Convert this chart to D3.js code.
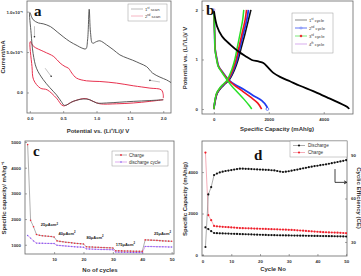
<!DOCTYPE html>
<html>
<head>
<meta charset="utf-8">
<script src="https://cdn.jsdelivr.net/npm/d3@7"></script>
<style>
  body { margin: 0; background: #fff; }
  svg { display: block; font-family: "Liberation Sans", Arial, sans-serif; }
</style>
</head>
<body>
<svg id="svg"></svg>
<script>
// ---- panel a: cyclic voltammetry (current in units of 1e-5 mA) ----
const scan1Potential = [2.0, 1.8, 1.55, 1.35, 1.15, 1.0, 0.9, 0.8, 0.65, 0.52, 0.47, 0.4, 0.3, 0.2, 0.1, 0.05, 0.02, 0.0,
  0.05, 0.13, 0.2, 0.31, 0.41, 0.5, 0.6, 0.71, 0.78, 0.84, 0.866, 0.89, 0.91, 0.94, 1.0, 1.05, 1.15, 1.25, 1.35, 1.46, 1.54, 1.65, 1.75, 1.84, 1.95, 2.05, 2.13];
const scan1Current = [-0.9, -1.0, -1.1, -1.2, -1.3, -1.3, -0.9, -0.8, -1.1, -1.6, -1.1, -0.3, 0.6, 1.6, 3.0, 4.8, 7.3, 9.9,
  9.0, 8.6, 8.5, 8.15, 7.5, 6.9, 6.3, 5.8, 5.5, 5.4, 6.5, 10.3, 7.4, 6.1, 6.3, 6.4, 5.9, 5.3, 4.65, 4.25, 4.0, 3.6, 3.2, 2.4, 1.9, 1.55, 1.15];
const scan2Potential = [2.0, 1.8, 1.55, 1.3, 1.05, 0.95, 0.83, 0.65, 0.5, 0.4, 0.26, 0.157, 0.057, 0.033, 0.007,
  0.057, 0.21, 0.36, 0.455, 0.53, 0.58, 0.63, 0.70, 0.85, 1.05, 1.30, 1.55, 1.80, 1.97, 2.0, 2.0];
const scan2Current = [-0.9, -1.1, -1.3, -1.4, -1.4, -1.1, -0.75, -1.1, -1.65, -0.7, 0.33, 0.54, 1.57, 3.2, 6.3,
  5.7, 5.06, 4.44, 3.63, 3.2, 3.0, 2.4, 1.78, 1.44, 1.36, 1.16, 0.83, 0.54, 0.33, -0.28, -0.7];
const aTicksY = [0, 5, 10];
const aTickLabelsY = ["0.0", "5.0x10⁻⁵", "1.0x10⁻⁴"];

// ---- panel b: charge / discharge profiles ----
const c1DisCap = [0, 116, 297, 598, 899, 1141, 1384, 1623, 1804, 1986, 2167, 2409, 2772, 3134, 3616, 4101, 4464, 4884, 4920];
const c1DisV = [2.0, 1.67, 1.47, 1.30, 1.16, 1.07, 0.99, 0.96, 0.93, 0.83, 0.73, 0.65, 0.56, 0.47, 0.36, 0.24, 0.15, 0.03, 0.0];
const c1ChCap = [0, 60, 125, 250, 375, 560, 750, 880, 1010, 1140, 1260, 1350];
const c1ChV = [0, 0.19, 0.32, 0.42, 0.49, 0.59, 0.79, 0.99, 1.26, 1.53, 1.80, 2.0];
const c2DisCap = [0, 30, 50, 116, 175, 297, 417, 536, 779, 1080, 1442, 1746, 1930, 1950];
const c2DisV = [2.0, 1.53, 1.2, 1.0, 0.86, 0.76, 0.67, 0.59, 0.49, 0.40, 0.27, 0.17, 0.05, 0.0];
const c2ChCap = [0, 54, 116, 236, 355, 536, 717, 840, 960, 1080, 1200, 1260];
const c2ChV = [0, 0.19, 0.32, 0.42, 0.49, 0.59, 0.79, 0.99, 1.26, 1.53, 1.80, 2.0];
const c3DisCap = [0, 30, 50, 110, 170, 290, 405, 520, 750, 1020, 1340, 1600, 1740];
const c3DisV = [2.0, 1.53, 1.2, 1.0, 0.86, 0.76, 0.67, 0.59, 0.48, 0.37, 0.24, 0.12, 0.0];
const c3ChCap = [0, 50, 110, 225, 340, 520, 690, 805, 920, 1030, 1140, 1190];
const c3ChV = [0, 0.19, 0.32, 0.42, 0.49, 0.59, 0.79, 0.99, 1.26, 1.53, 1.80, 2.0];
const c4DisCap = [0, 28, 45, 100, 160, 270, 380, 480, 660, 880, 1110, 1290, 1380];
const c4DisV = [2.0, 1.53, 1.2, 1.0, 0.86, 0.76, 0.67, 0.59, 0.46, 0.33, 0.19, 0.07, 0.0];
const c4ChCap = [0, 45, 100, 210, 320, 490, 650, 760, 860, 960, 1050, 1090];
const c4ChV = [0, 0.19, 0.32, 0.42, 0.49, 0.59, 0.79, 0.99, 1.26, 1.53, 1.80, 2.0];

// ---- panel c: rate capability ----
const rateCycles = d3.range(1, 51);
const rateCharge = [4900, 1950, 1700, 1400, 1370, 1350, 1340, 1330, 1320, 1300,
  1150, 1130, 1115, 1100, 1090, 1075, 1060, 1050, 1040, 1030,
  920, 915, 910, 905, 900, 895, 890, 885, 880, 875,
  765, 762, 760, 757, 755, 752, 750, 748, 745, 743,
  1190, 1185, 1180, 1175, 1170, 1160, 1150, 1145, 1140, 1135];
const rateDischarge = [1360, 1260, 1150, 1065, 1060, 1058, 1055, 1052, 1050, 1048,
  980, 970, 960, 950, 940, 930, 920, 915, 910, 905,
  840, 835, 830, 825, 822, 818, 815, 812, 810, 808,
  715, 712, 710, 708, 705, 703, 700, 698, 696, 694,
  935, 932, 930, 928, 925, 922, 920, 918, 915, 912];
const rateLabels = ["25μAcm", "40μAcm", "80μAcm", "175μAcm", "25μAcm"];
const rateLabelCycle = [5.5, 11.5, 21, 31, 44];
const rateLabelCap = [1720, 1380, 1230, 960, 1380];

// ---- panel d: cycling stability ----
const lifeCycles = d3.range(1, 51);
const lifeDischarge = [1330, 1250, 1150, 1060, 1050, 1045, 1040, 1035, 1030, 1025,
  1020, 1015, 1010, 1005, 1000, 995, 990, 985, 980, 975,
  970, 965, 960, 958, 955, 952, 950, 948, 945, 942,
  940, 938, 935, 932, 930, 928, 925, 922, 920, 918,
  915, 912, 910, 908, 905, 902, 900, 898, 895, 890];
const lifeCharge = [4940, 1920, 1680, 1400, 1380, 1370, 1360, 1350, 1340, 1330,
  1320, 1310, 1300, 1295, 1290, 1285, 1280, 1275, 1270, 1265,
  1260, 1255, 1250, 1245, 1240, 1235, 1230, 1225, 1220, 1215,
  1210, 1200, 1190, 1180, 1170, 1160, 1150, 1140, 1130, 1120,
  1110, 1100, 1095, 1090, 1085, 1080, 1075, 1070, 1060, 1050];
const lifeCE = [26.5, 62.8, 67.9, 76.2, 77.2, 78, 78.5, 79, 79.3, 79.6,
  80, 80.3, 80.6, 80.6, 80.5, 80.4, 80.3, 80.2, 80.1, 80,
  79.9, 79.8, 79.7, 79.5, 79.4, 79, 78.6, 78.3, 78.5, 78.8,
  79.2, 79.6, 80, 80.4, 80.8, 81.2, 81.6, 82, 82.4, 82.6,
  83, 83.3, 83.6, 84, 84.4, 84.8, 85.2, 85.6, 86, 86.5];

const svg = d3.select("#svg").attr("width", 361).attr("height", 276);
const FRAME = "#666";

// sets up a framed panel with inward ticks on the labelled sides
function makePanel(id, box, xDomain, yDomain, xTicks, yTicks, yFormat, xFormat) {
  const w = box.right - box.left, h = box.bottom - box.top;
  const x = d3.scaleLinear().domain(xDomain).range([0, w]);
  const y = d3.scaleLinear().domain(yDomain).range([h, 0]);
  const g = svg.append("g").attr("transform", `translate(${box.left},${box.top})`);

  g.append("clipPath").attr("id", "clip-" + id)
    .append("rect").attr("width", w).attr("height", h);

  const styleAxis = sel => {
    sel.select(".domain").remove();
    sel.selectAll("line").attr("stroke", FRAME).attr("stroke-width", 0.6);
    sel.selectAll("text").attr("font-size", 4.4).attr("font-weight", "bold").attr("fill", "#333");
  };

  g.append("g").attr("transform", `translate(0,${h})`)
    .call(d3.axisBottom(x).tickValues(xTicks).tickFormat(xFormat || (d => d)).tickSizeInner(-2).tickSizeOuter(0).tickPadding(4))
    .call(styleAxis);
  g.append("g")
    .call(d3.axisLeft(y).tickValues(yTicks).tickFormat(yFormat || (d => d)).tickSizeInner(-2).tickSizeOuter(0).tickPadding(4))
    .call(styleAxis);

  g.append("rect").attr("width", w).attr("height", h)
    .attr("fill", "none").attr("stroke", FRAME).attr("stroke-width", 0.8);

  const plot = g.append("g").attr("clip-path", `url(#clip-${id})`);
  return { g, plot, x, y, w, h };
}

function panelLetter(g, x, y, letter) {
  g.append("text").attr("x", x).attr("y", y).text(letter)
    .attr("font-family", "'Liberation Serif', 'Times New Roman', serif")
    .attr("font-weight", "bold").attr("font-size", 15).attr("fill", "#111");
}

function axisTitle(x, y, text, rotate) {
  const t = svg.append("text").attr("text-anchor", "middle")
    .attr("font-size", 6).attr("font-weight", "bold").attr("fill", "#333");
  if (rotate) t.attr("transform", `translate(${x},${y}) rotate(${rotate})`);
  else t.attr("x", x).attr("y", y);
  return t.text(text);
}

function legendBox(x, y, w, h) {
  svg.append("rect").attr("x", x).attr("y", y).attr("width", w).attr("height", h)
    .attr("fill", "#fff").attr("stroke", "#999").attr("stroke-width", 0.5);
}

function legendText(x, y, base, sup, rest, size) {
  const t = svg.append("text").attr("x", x).attr("y", y).attr("font-size", size || 4.5).attr("fill", "#333");
  t.append("tspan").text(base);
  if (sup) t.append("tspan").attr("font-size", (size || 4.5) * 0.65).attr("dy", -1.5).text(sup);
  if (rest) t.append("tspan").attr("dy", sup ? 1.5 : 0).text(rest);
}

const zip = (xs, ys) => xs.map((v, i) => [v, ys[i]]);

// ================= panel a =================
{
  const p = makePanel("a", { left: 27, top: 1, right: 171, bottom: 113 },
    [-0.042, 2.116], [-2.54, 11.32], [0, 0.5, 1.0, 1.5, 2.0], aTicksY,
    d => aTickLabelsY[aTicksY.indexOf(d)], d3.format(".1f"));
  const line = d3.line().x(d => p.x(d[0])).y(d => p.y(d[1])).curve(d3.curveCatmullRom.alpha(0.5));
  p.plot.append("path").datum(zip(scan2Potential, scan2Current))
    .attr("d", line).attr("fill", "none").attr("stroke", "#e8324f").attr("stroke-width", 1);
  p.plot.append("path").datum(zip(scan1Potential, scan1Current))
    .attr("d", line).attr("fill", "none").attr("stroke", "#4a4a4a").attr("stroke-width", 0.9);

  // direction arrows
  const arrow = (x1, y1, x2, y2) => {
    p.plot.append("line").attr("x1", p.x(x1)).attr("y1", p.y(y1)).attr("x2", p.x(x2)).attr("y2", p.y(y2))
      .attr("stroke", "#999").attr("stroke-width", 0.6);
    p.plot.append("circle").attr("cx", p.x(x2)).attr("cy", p.y(y2)).attr("r", 0.8).attr("fill", "#222");
  };
  arrow(0.07, 8.2, 0.07, 6.9);
  arrow(0.23, 3.0, 0.32, 2.0);
  arrow(1.95, 1.3, 1.8, 1.5);

  panelLetter(p.g, 7, 15, "a");
  legendBox(128, 4, 39, 17);
  svg.append("line").attr("x1", 131).attr("x2", 143).attr("y1", 9).attr("y2", 9).attr("stroke", "#aaa").attr("stroke-width", 0.8);
  svg.append("line").attr("x1", 131).attr("x2", 143).attr("y1", 16).attr("y2", 16).attr("stroke", "#f4a3b4").attr("stroke-width", 0.8);
  legendText(145, 10.5, "1", "st", " scan", 4.2);
  legendText(145, 17.5, "2", "nd", " scan", 4.2);

  axisTitle(5, 57, "Current/mA", -90);
  axisTitle(98, 133, "Potential vs. (Li⁺/Li)/ V");
}

// ================= panel b =================
{
  const p = makePanel("b", { left: 202, top: 1, right: 353, bottom: 114 },
    [-430, 5065], [-0.1, 2.18], [0, 2000, 4000], [0, 1, 2]);
  const lineX = d3.line().x(d => p.x(d[0])).y(d => p.y(d[1])).curve(d3.curveCatmullRom);
  const curves = [
    { cap: c1ChCap, v: c1ChV, color: "#111", wid: 1.6 },
    { cap: c2DisCap, v: c2DisV, color: "#1f3cf0", wid: 1.8 },
    { cap: c2ChCap, v: c2ChV, color: "#1f3cf0", wid: 1.8 },
    { cap: c3DisCap, v: c3DisV, color: "#f0141e", wid: 1.6 },
    { cap: c3ChCap, v: c3ChV, color: "#f0141e", wid: 1.6 },
    { cap: c4DisCap, v: c4DisV, color: "#28e028", wid: 1.5 },
    { cap: c4ChCap, v: c4ChV, color: "#28e028", wid: 1.5 }
  ];
  curves.forEach(c => {
    p.plot.append("path").datum(zip(c.cap, c.v)).attr("d", lineX)
      .attr("fill", "none").attr("stroke", c.color).attr("stroke-width", c.wid);
  });
  p.plot.append("path").datum(zip(c1DisCap, c1DisV)).attr("d", lineX)
    .attr("fill", "none").attr("stroke", "#000").attr("stroke-width", 1.8);
  // end markers
  p.plot.append("circle").attr("cx", p.x(1950)).attr("cy", p.y(0)).attr("r", 1.4)
    .attr("fill", "#fff").attr("stroke", "#1f3cf0").attr("stroke-width", 0.6);
  p.plot.append("circle").attr("cx", p.x(0)).attr("cy", p.y(2.0)).attr("r", 1.2)
    .attr("fill", "#fff").attr("stroke", "#c070e0").attr("stroke-width", 0.6);

  panelLetter(p.g, 4, 14, "b");

  legendBox(292, 13, 41, 40);
  const lg = [
    { sup: "st", color: "#555", mark: null },
    { sup: "nd", color: "#1f3cf0", mark: "#1f3cf0" },
    { sup: "rd", color: "#40e040", mark: "#f0141e" },
    { sup: "th", color: "#c78ae6", mark: null }
  ];
  const nums = ["1", "2", "3", "4"];
  lg.forEach((e, i) => {
    const yy = 20 + i * 8;
    svg.append("line").attr("x1", 295).attr("x2", 307).attr("y1", yy).attr("y2", yy)
      .attr("stroke", e.color).attr("stroke-width", 0.7);
    if (e.mark) svg.append("circle").attr("cx", 301).attr("cy", yy).attr("r", 1)
      .attr("fill", i === 1 ? "#fff" : e.mark).attr("stroke", e.mark).attr("stroke-width", 0.5);
    legendText(309, yy + 1.5, nums[i], e.sup, " cycle", 4.2);
  });

  axisTitle(187, 58, "Potential vs. (Li⁺/Li)/ V", -90);
  axisTitle(277, 131, "Specific Capacity (mAh/g)");
}

// ================= panel c =================
{
  const p = makePanel("c", { left: 25, top: 141, right: 174, bottom: 254 },
    [0.1, 50.8], [640, 5040], [10, 20, 30, 40, 50], [1000, 2000, 3000, 4000, 5000]);
  const line = d3.line().x(d => p.x(d[0])).y(d => p.y(d[1]));
  p.plot.append("path").datum(zip(rateCycles, rateDischarge)).attr("d", line)
    .attr("fill", "none").attr("stroke", "#d28ae8").attr("stroke-width", 0.8);
  p.plot.append("path").datum(zip(rateCycles, rateCharge)).attr("d", line)
    .attr("fill", "none").attr("stroke", "#9a9a9a").attr("stroke-width", 0.8);
  p.plot.selectAll(".dis").data(zip(rateCycles, rateDischarge)).enter().append("circle")
    .attr("cx", d => p.x(d[0])).attr("cy", d => p.y(d[1])).attr("r", 0.7).attr("fill", "#7a5cf0");
  p.plot.selectAll(".chg").data(zip(rateCycles, rateCharge)).enter().append("circle")
    .attr("cx", d => p.x(d[0])).attr("cy", d => p.y(d[1])).attr("r", 0.8).attr("fill", "#f02a3a");

  rateLabels.forEach((t, i) => {
    const el = p.g.append("text").attr("x", p.x(rateLabelCycle[i])).attr("y", p.y(rateLabelCap[i]))
      .attr("font-size", 4).attr("font-weight", "bold").attr("fill", "#222");
    el.append("tspan").text(t);
    el.append("tspan").attr("dy", -1.6).attr("font-size", 2.8).text("2");
  });

  panelLetter(p.g, 8, 15, "c");
  legendBox(112, 151, 56, 15);
  svg.append("line").attr("x1", 115).attr("x2", 127).attr("y1", 155).attr("y2", 155).attr("stroke", "#9a9a9a").attr("stroke-width", 0.7);
  svg.append("circle").attr("cx", 121).attr("cy", 155).attr("r", 0.9).attr("fill", "#f02a3a");
  svg.append("line").attr("x1", 115).attr("x2", 127).attr("y1", 162).attr("y2", 162).attr("stroke", "#d28ae8").attr("stroke-width", 0.7);
  svg.append("circle").attr("cx", 121).attr("cy", 162).attr("r", 0.8).attr("fill", "#7a5cf0");
  legendText(129, 156.7, "Charge", null, null, 4.6);
  legendText(129, 163.7, "discharge cycle", null, null, 4.6);

  axisTitle(6, 198, "Specific capacity/ mAhg⁻¹", -90);
  axisTitle(100, 272, "No of cycles");
}

// ================= panel d =================
{
  const p = makePanel("d", { left: 202, top: 141, right: 347, bottom: 256 },
    [-0.2, 50.3], [-50, 5500], [0, 10, 20, 30, 40, 50], [0, 2000, 4000]);
  const yR = d3.scaleLinear().domain([20.3, 99.7]).range([p.h, 0]);
  p.g.append("g").attr("transform", `translate(${p.w},0)`)
    .call(d3.axisRight(yR).tickValues([30, 60, 90]).tickSizeInner(-2).tickSizeOuter(0).tickPadding(4))
    .call(sel => {
      sel.select(".domain").remove();
      sel.selectAll("line").attr("stroke", FRAME).attr("stroke-width", 0.6);
      sel.selectAll("text").attr("font-size", 4.4).attr("font-weight", "bold").attr("fill", "#333");
    });

  const series = [
    { ys: lifeCharge, scale: p.y, line: "#f08a9a", dot: "#f0202a" },
    { ys: lifeDischarge, scale: p.y, line: "#888", dot: "#111" },
    { ys: lifeCE, scale: yR, line: "#888", dot: "#111" }
  ];
  series.forEach(s => {
    const pts = zip(lifeCycles, s.ys);
    p.plot.append("path").datum(pts)
      .attr("d", d3.line().x(d => p.x(d[0])).y(d => s.scale(d[1])))
      .attr("fill", "none").attr("stroke", s.line).attr("stroke-width", 0.7);
    p.plot.selectAll(null).data(pts).enter().append("circle")
      .attr("cx", d => p.x(d[0])).attr("cy", d => s.scale(d[1])).attr("r", 1.1).attr("fill", s.dot);
  });

  // arrow pointing to the right-hand axis
  p.g.append("path").attr("d", `M${p.w - 12},${p.y(4000) - 3} V${p.y(3600) + 2} H${p.w - 1}`)
    .attr("fill", "none").attr("stroke", "#111").attr("stroke-width", 0.8);
  p.g.append("path").attr("d", `M${p.w - 3},${p.y(3600) + 0.5} L${p.w},${p.y(3600) + 2} L${p.w - 3},${p.y(3600) + 3.5}`)
    .attr("fill", "none").attr("stroke", "#111").attr("stroke-width", 0.8);

  panelLetter(p.g, 52, 19, "d");

  legendBox(290, 141, 57, 16);
  svg.append("line").attr("x1", 293).attr("x2", 305).attr("y1", 145.5).attr("y2", 145.5).attr("stroke", "#888").attr("stroke-width", 0.7);
  svg.append("circle").attr("cx", 299).attr("cy", 145.5).attr("r", 1.1).attr("fill", "#111");
  svg.append("line").attr("x1", 293).attr("x2", 305).attr("y1", 152.5).attr("y2", 152.5).attr("stroke", "#f08a9a").attr("stroke-width", 0.7);
  svg.append("circle").attr("cx", 299).attr("cy", 152.5).attr("r", 1.1).attr("fill", "#f0202a");
  legendText(308, 147.2, "Discharge", null, null, 4.6);
  legendText(308, 154.2, "Charge", null, null, 4.6);

  axisTitle(187, 199, "Specific Capacity (mAh/g)", -90);
  axisTitle(357, 198, "Cyclic Efficiency (CE)", 90);
  axisTitle(273, 271, "Cycle No");
}
</script>
</body>
</html>
